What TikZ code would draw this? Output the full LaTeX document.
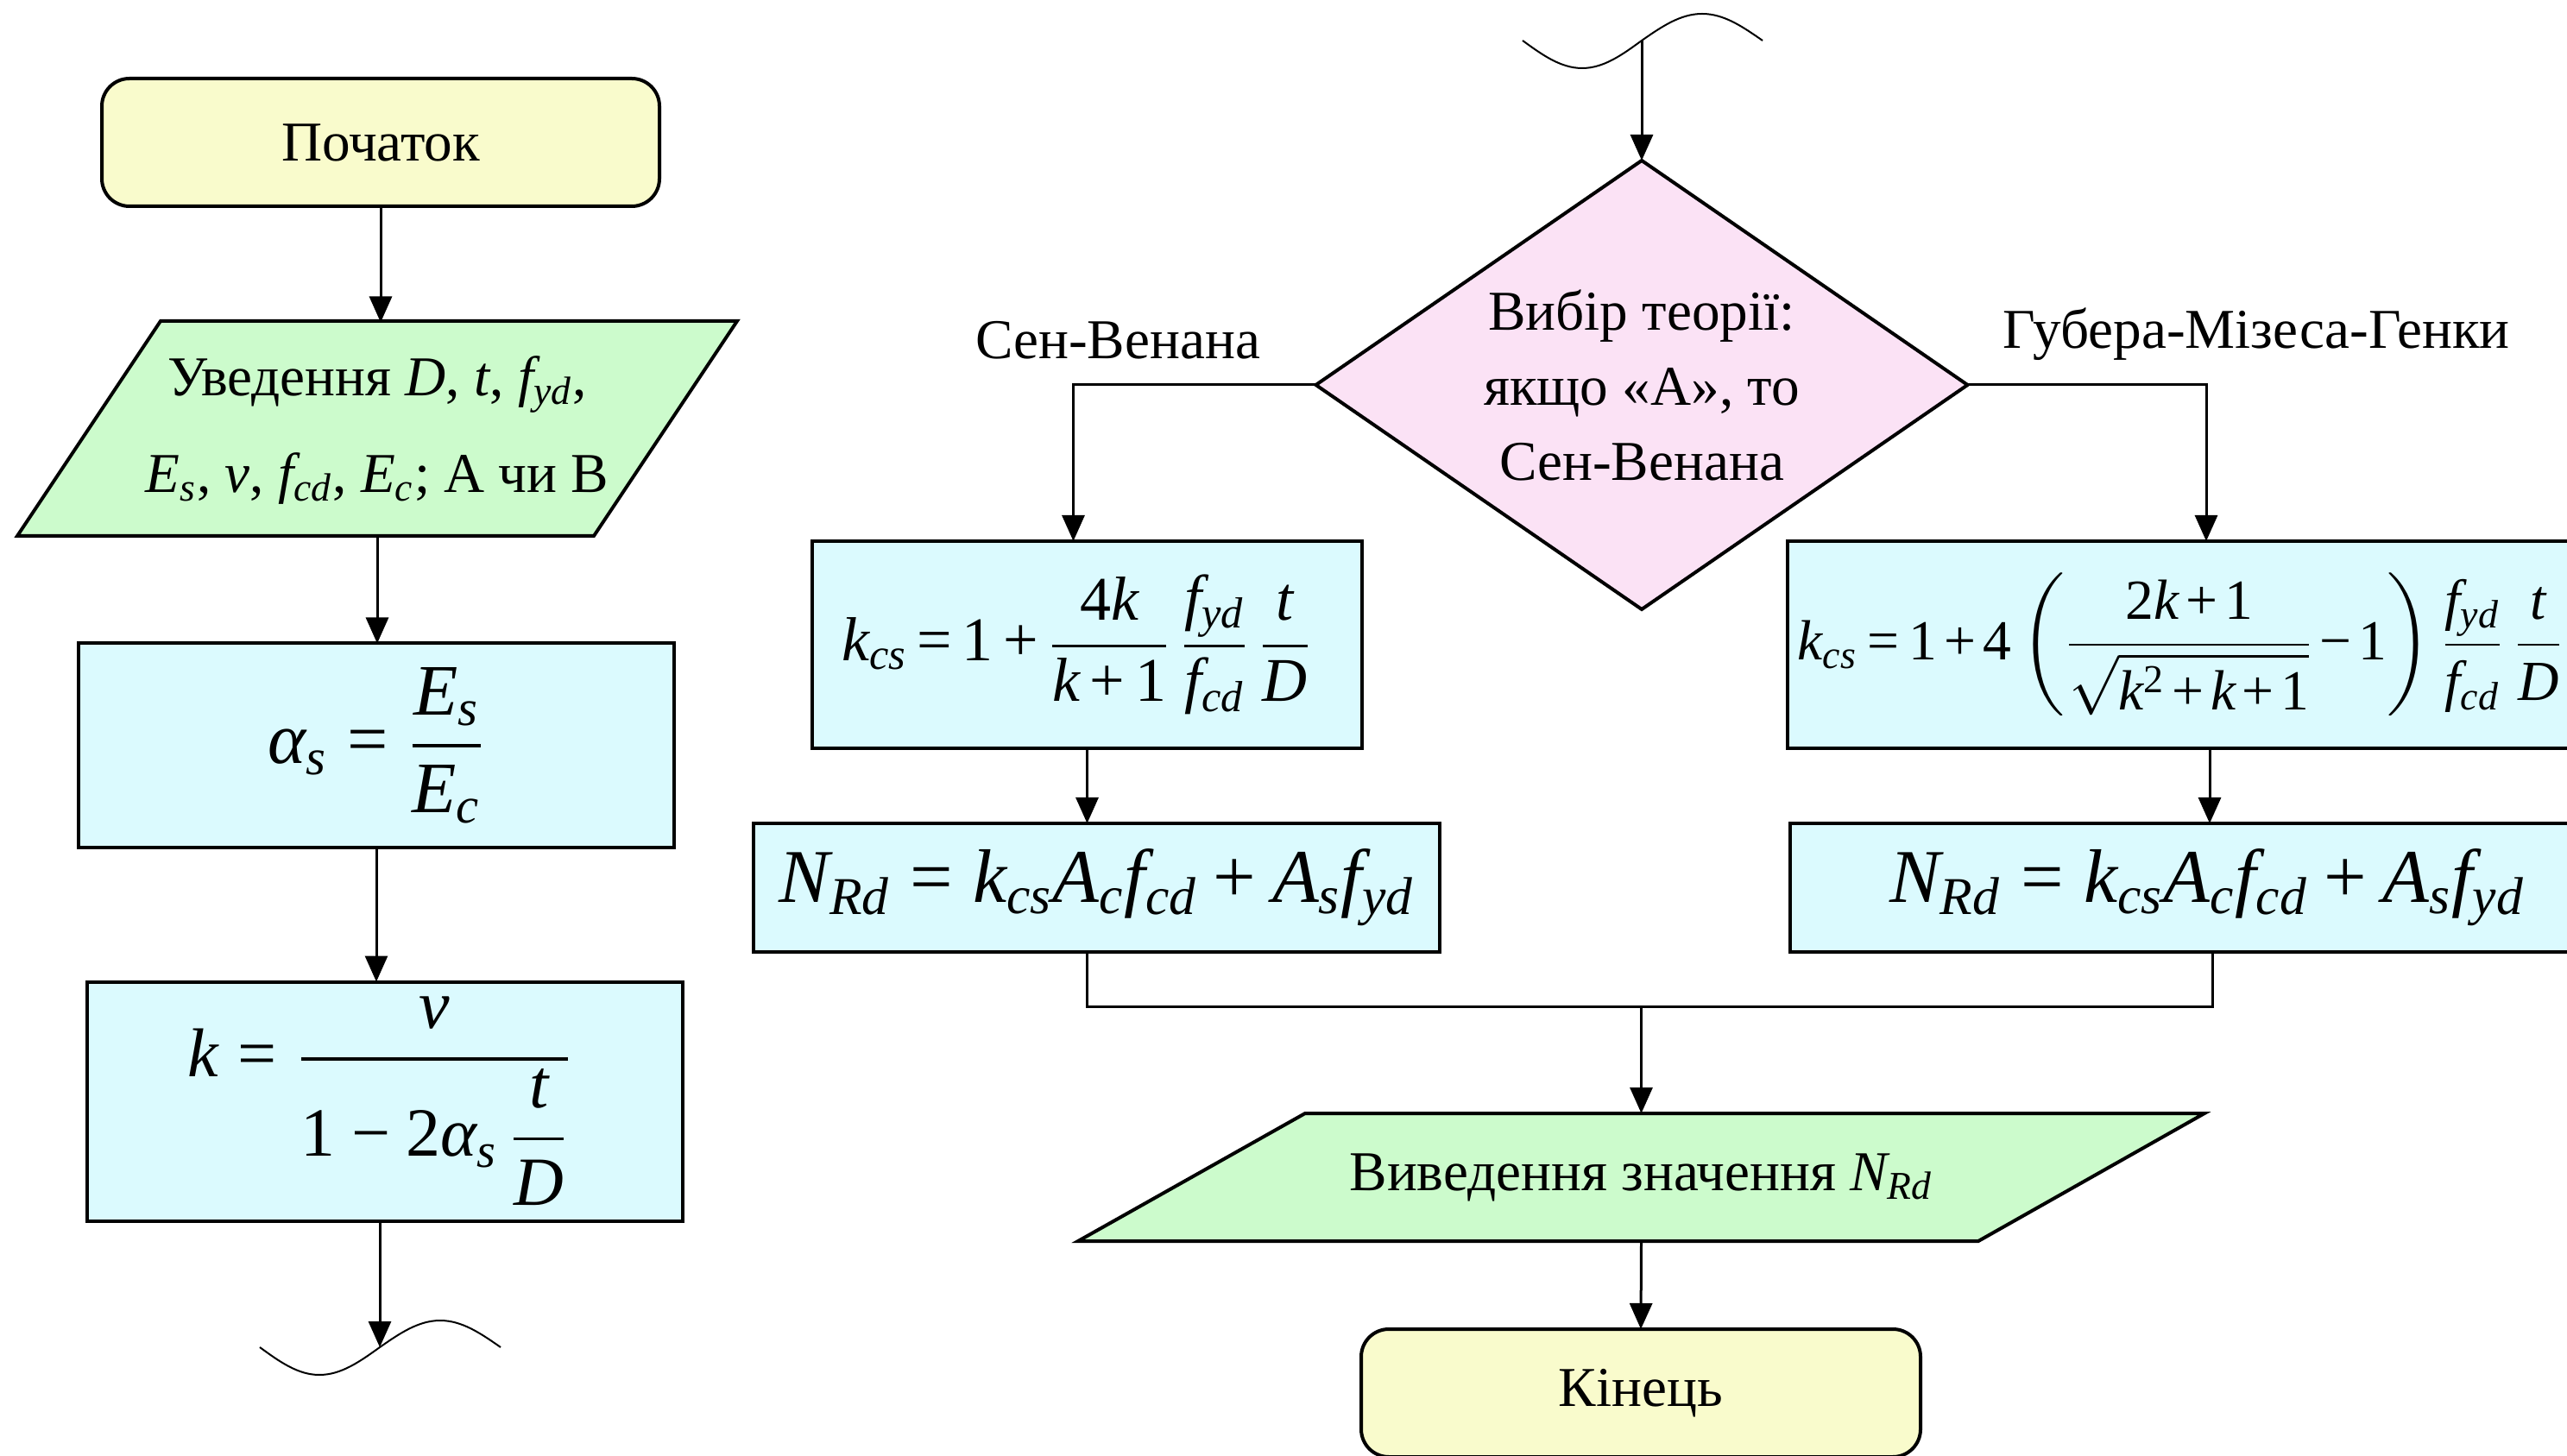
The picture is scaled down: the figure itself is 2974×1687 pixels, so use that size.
\documentclass[tikz,border=0pt]{standalone}
\usepackage{amsmath}
\usepackage{fontspec}
\setmainfont{Liberation Serif}
\usetikzlibrary{shapes.geometric,arrows.meta,calc}
\definecolor{cyel}{RGB}{249,251,204}
\definecolor{cgrn}{RGB}{204,251,204}
\definecolor{ccyn}{RGB}{219,250,254}
\definecolor{cpnk}{RGB}{251,226,245}
\newcommand\mv[1]{\mathit{#1}}
\newcommand\tx[1]{\text{#1}}
\newcommand\meq{\mathrel{\text{=}}}
\newcommand\mpl{\mathbin{\text{+}}}
\newcommand\mmi{\mathbin{\text{−}}}
\newcommand\malpha{\textit{α}}
\newcommand\mnu{\textit{ν}}
\tikzset{
  box/.style={draw, line width=1pt, fill=ccyn, inner sep=0pt, outer sep=0pt},
  term/.style={draw, line width=1pt, fill=cyel, rounded corners=8pt, inner sep=0pt, outer sep=0pt},
  iobox/.style={draw, line width=1pt, fill=cgrn},
  txt/.style={inner sep=0pt, outer sep=0pt, align=center},
  arr/.style={-{Triangle[length=7.5pt,width=6.5pt]}, line width=0.75pt},
  wave/.style={line width=0.5pt},
  lbl/.style={inner sep=0pt},
  fbig/.style={font=\fontsize{21}{25}\selectfont},
  fnr/.style={font=\fontsize{22}{26}\selectfont},
}
\begin{document}
\begin{tikzpicture}[x=0.25pt, y=-0.25pt, font=\fontsize{16.3}{21.75}\selectfont]
\useasboundingbox (0,0) rectangle (2974,1687);
\clip (0,0) rectangle (2974,1687);
% left column
\node[term, minimum width=161.5pt, minimum height=37pt] (st) at (441,165) {Початок};
\draw[iobox] (186,372) -- (854,372) -- (688,621) -- (20,621) -- cycle;
\node[txt, minimum width=125pt, minimum height=62.25pt, font=\fontsize{16.3}{28}\selectfont] (inp) at (437,498)
  {Уведення $\mv{D}$, $\mv{t}$, $\mv{f}_{\mv{yd}}$,\\ $\mv{E}_{\mv{s}}$, $\mv{v}$, $\mv{f}_{\mv{cd}}$, $\mv{E}_{\mv{c}}$; А чи В};
\node[box, minimum width=172.5pt, minimum height=59.25pt, fbig] (al) at (436,864)
  {$\malpha_{\mv{s}} \meq \dfrac{\mv{E}_{\mv{s}}}{\mv{E}_{\mv{c}}}$};
\node[box, minimum width=172.5pt, minimum height=69.25pt, font=\fontsize{20}{24}\selectfont] (kb) at (446,1276)
  {$\mv{k} \meq \dfrac{\mnu}{\tx{1}\mmi\tx{2}\malpha_{\mv{s}}\,\dfrac{\mv{t}}{\mv{D}}}$\hspace*{3pt}};
\coordinate (w1) at (440,1561);
\draw[wave] (301,1561) sin (370,1593) cos (440,1561) sin (510,1530) cos (580,1561);
\draw[arr] (st.south) -- (st.south |- inp.north);
\draw[arr] (inp.south) -- (inp.south |- al.north);
\draw[arr] (al.south) -- (al.south |- kb.north);
\draw[arr] (kb.south -| w1) -- (w1);
% right part
\coordinate (w2) at (1902,47);
\draw[wave] (1764,47) sin (1833,79) cos (1902,47) sin (1972,16) cos (2042,47);
\node[diamond, draw, line width=1pt, fill=cpnk, minimum width=188.75pt, minimum height=130pt, shape aspect=1.45, inner sep=0pt, outer sep=0pt, align=center] (dec) at (1902,446)
  {Вибір теорії:\\ якщо «А», то\\ Сен-Венана};
\node[lbl] (lsv) at (1295,394) {Сен-Венана};
\node[lbl] (lgm) at (2614,387) {Губера-Мізеса-Генки};
\node[box, minimum width=159.25pt, minimum height=60pt, font=\fontsize{18}{22}\selectfont] (kl) at (1259.5,747)
  {\thickmuskip=3mu\medmuskip=3mu$\mv{k}_{\mv{cs}} \meq \tx{1}\mpl\dfrac{\tx{4}\mv{k}}{\mv{k}\mpl\tx{1}}\,\dfrac{\mv{f}_{\mv{yd}}}{\mv{f}_{\mv{cd}}}\,\dfrac{\mv{t}}{\mv{D}}$\hspace*{6pt}};
\node[box, minimum width=244.5pt, minimum height=60pt, font=\fontsize{16.4}{20}\selectfont] (kr) at (2560,747)
  {\makebox[0pt][c]{\thickmuskip=3mu\medmuskip=2mu$\mv{k}_{\mv{cs}} \meq \tx{1}\mpl\tx{4}\left(\dfrac{\tx{2}\mv{k}\mpl\tx{1}}{\sqrt{\mv{k}^{\tx{2}}\mpl\mv{k}\mpl\tx{1}}}\mmi\tx{1}\right)\dfrac{\mv{f}_{\mv{yd}}}{\mv{f}_{\mv{cd}}}\,\dfrac{\mv{t}}{\mv{D}}$\hspace*{17pt}}};
\node[box, minimum width=198.75pt, minimum height=37.25pt, fnr] (nl) at (1270.5,1028.5)
  {$\mv{N}_{\mv{Rd}} \meq \mv{k}_{\mv{cs}}\mv{A}_{\mv{c}}\mv{f}_{\mv{cd}} \mpl \mv{A}_{\mv{s}}\mv{f}_{\mv{yd}}$};
\node[box, minimum width=244.5pt, minimum height=37.25pt, fnr] (nr) at (2563,1028.5)
  {$\mv{N}_{\mv{Rd}} \meq \mv{k}_{\mv{cs}}\mv{A}_{\mv{c}}\mv{f}_{\mv{cd}} \mpl \mv{A}_{\mv{s}}\mv{f}_{\mv{yd}}$\hspace*{3pt}};
\draw[iobox] (1512,1290) -- (2554,1290) -- (2292,1438) -- (1249,1438) -- cycle;
\node[txt, minimum width=175pt, minimum height=37pt] (out) at (1901.5,1364)
  {Виведення значення $\mv{N}_{\mv{Rd}}$};
\node[term, minimum width=162pt, minimum height=37pt] (en) at (1901,1614) {Кінець};
\coordinate (m) at (1901.5,1166);
\draw[arr] (w2) -- (dec.north);
\draw[arr] (dec.west) -| ($(kl.north)+(-16,0)$);
\draw[arr] (dec.east) -| ($(kr.north)+(-4,0)$);
\draw[arr] (kl.south) -- (kl.south |- nl.north);
\draw[arr] (kr.south) -- (kr.south |- nr.north);
\draw[line width=0.75pt] (kl.south |- nl.south) |- (m) -| (nr.south);
\draw[arr] (m) -- (out.north);
\draw[arr] (out.south) -- (en.north);
\end{tikzpicture}
\end{document}
